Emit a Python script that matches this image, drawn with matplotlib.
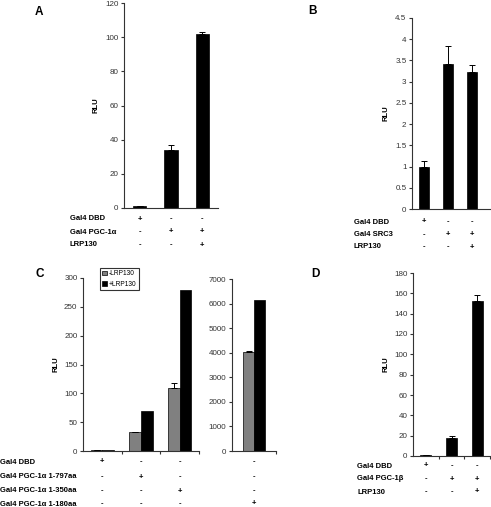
import matplotlib.pyplot as plt
from matplotlib.transforms import blended_transform_factory
import numpy as np

plt.rcParams['font.family'] = ['Liberation Sans', 'DejaVu Sans']

W, H = 491, 507

# panel A
a_vals = [1, 34, 102]
a_err = [0, 3, 1]
a_rows = ["Gal4 DBD", "Gal4 PGC-1α", "LRP130"]
a_signs = [["+", "-", "-"], ["-", "+", "+"], ["-", "-", "+"]]

# panel B
b_vals = [1.0, 3.42, 3.22]
b_err = [0.12, 0.42, 0.18]
b_rows = ["Gal4 DBD", "Gal4 SRC3", "LRP130"]
b_signs = [["+", "-", "-"], ["-", "+", "+"], ["-", "-", "+"]]

# panel C
c_minus = [1, 33, 110]
c_minus_err = [0, 0, 8]
c_plus = [1, 70, 280]
c_right_minus = [4020]
c_right_minus_err = [30]
c_right_plus = [6150]
c_rows = ["Gal4 DBD", "Gal4 PGC-1α 1-797aa", "Gal4 PGC-1α 1-350aa", "Gal4 PGC-1α 1-180aa"]
c_signs = [["+", "-", "-"], ["-", "+", "-"], ["-", "-", "+"], ["-", "-", "-"]]
c_right_signs = [["-"], ["-"], ["-"], ["+"]]

# panel D
d_vals = [1, 18, 152]
d_err = [0, 2, 6]
d_rows = ["Gal4 DBD", "Gal4 PGC-1β", "LRP130"]
d_signs = [["+", "-", "-"], ["-", "+", "+"], ["-", "-", "+"]]

fig = plt.figure(figsize=(W / 100, H / 100), dpi=100)
TICK = 5.8
LAB = 5.5


def px_axes(x0, y0, x1, y1):
    return fig.add_axes([x0 / W, 1 - y1 / H, (x1 - x0) / W, (y1 - y0) / H])


def style(ax, ymax, step, fmt=None, xticks=None):
    for s in ("top", "right"):
        ax.spines[s].set_visible(False)
    for s in ("left", "bottom"):
        ax.spines[s].set_linewidth(0.8)
        ax.spines[s].set_color("#333333")
    ax.set_ylim(0, ymax)
    ticks = np.arange(0, ymax + step / 2, step)
    ax.set_yticks(ticks)
    if fmt:
        ax.set_yticklabels([fmt(t) for t in ticks])
    ax.tick_params(axis="y", labelsize=TICK, length=2.5, width=0.8, pad=1.5, colors="#333333")
    if xticks is None:
        ax.set_xticks([])
    else:
        ax.set_xticks(xticks)
        ax.set_xticklabels([])
        ax.tick_params(axis="x", length=2.5, width=0.8, colors="#333333")


def rows(ax, labels, signs, xs, ys, lx):
    tr = blended_transform_factory(ax.transData, fig.transFigure)
    for lab, sg, y in zip(labels, signs, ys):
        fig.text(lx / W, 1 - y / H, lab, fontsize=LAB, fontweight="bold", va="center", ha="left")
        for x, s in zip(xs, sg):
            ax.text(x, 1 - y / H, s, transform=tr, fontsize=LAB, fontweight="bold", ha="center", va="center")


def simple_bars(ax, vals, err, width):
    x = np.arange(len(vals))
    ax.bar(x, vals, width, color="black", edgecolor="black", linewidth=0.5)
    ax.errorbar(x, vals, yerr=[np.zeros(len(vals)), err], fmt="none", ecolor="black",
                elinewidth=0.7, capsize=2.2, capthick=0.7)
    return x


# A
ax = px_axes(124, 3, 218, 208)
x = simple_bars(ax, a_vals, a_err, 0.42)
ax.set_xlim(-0.5, 2.5)
style(ax, 120, 20)
ax.set_ylabel("RLU", fontsize=LAB, fontweight="bold", labelpad=4)
rows(ax, a_rows, a_signs, x, [219, 232, 245], 70)
fig.text(35 / W, 1 - 12 / H, "A", fontsize=8.5, fontweight="bold", va="center")

# B
ax = px_axes(412, 18, 490, 209)
x = simple_bars(ax, b_vals, b_err, 0.42)
ax.set_xlim(-0.5, 2.75)
style(ax, 4.5, 0.5, fmt=lambda t: f"{t:g}")
ax.set_ylabel("RLU", fontsize=LAB, fontweight="bold", labelpad=4)
rows(ax, b_rows, b_signs, x, [222, 235, 247], 354)
fig.text(308 / W, 1 - 11 / H, "B", fontsize=8.5, fontweight="bold", va="center")

# C left
ax = px_axes(83, 278, 199, 451)
x = np.arange(3)
w = 0.3
ax.bar(x - w / 2, c_minus, w, color="#808080", edgecolor="black", linewidth=0.5, label="-LRP130")
ax.bar(x + w / 2, c_plus, w, color="black", edgecolor="black", linewidth=0.5, label="+LRP130")
ax.errorbar(x - w / 2, c_minus, yerr=[np.zeros(3), c_minus_err], fmt="none", ecolor="black",
            elinewidth=0.7, capsize=2.2, capthick=0.7)
ax.set_xlim(-0.5, 2.5)
style(ax, 300, 50, xticks=[0.5, 1.5, 2.5])
ax.set_ylabel("RLU", fontsize=LAB, fontweight="bold", labelpad=3)
leg = ax.legend(loc="upper left", bbox_to_anchor=(100 / W, 1 - 268 / H),
                bbox_transform=fig.transFigure, fontsize=4.8, frameon=True, fancybox=False,
                handlelength=0.7, handleheight=0.7, handletextpad=0.3, borderpad=0.35,
                labelspacing=0.5, borderaxespad=0)
leg.get_frame().set_edgecolor("black")
leg.get_frame().set_linewidth(0.8)
rows(ax, c_rows, c_signs, x, [462, 477, 491, 504], 0)
fig.text(36 / W, 1 - 274 / H, "C", fontsize=8.5, fontweight="bold", va="center")

# C right
ax2 = px_axes(232, 279, 276, 451)
xr = np.arange(1)
wr = 0.25
ax2.bar(xr - wr / 2, c_right_minus, wr, color="#808080", edgecolor="black", linewidth=0.5)
ax2.bar(xr + wr / 2, c_right_plus, wr, color="black", edgecolor="black", linewidth=0.5)
ax2.errorbar(xr - wr / 2, c_right_minus, yerr=[[0], c_right_minus_err], fmt="none",
             ecolor="black", elinewidth=0.7, capsize=2.2, capthick=0.7)
ax2.set_xlim(-0.5, 0.5)
style(ax2, 7000, 1000, xticks=[0.5])
tr = blended_transform_factory(ax2.transData, fig.transFigure)
for sg, y in zip(c_right_signs, [462, 477, 491, 504]):
    ax2.text(xr[0], 1 - y / H, sg[0], transform=tr, fontsize=LAB, fontweight="bold",
             ha="center", va="center")

# D
ax = px_axes(413, 273, 490, 456)
x = simple_bars(ax, d_vals, d_err, 0.42)
ax.set_xlim(-0.5, 2.5)
style(ax, 180, 20, xticks=[0.5, 1.5, 2.5])
ax.set_ylabel("RLU", fontsize=LAB, fontweight="bold", labelpad=3)
rows(ax, d_rows, d_signs, x, [466, 479, 492], 357)
fig.text(311 / W, 1 - 274 / H, "D", fontsize=8.5, fontweight="bold", va="center")

fig.savefig("out.png", dpi=100)
